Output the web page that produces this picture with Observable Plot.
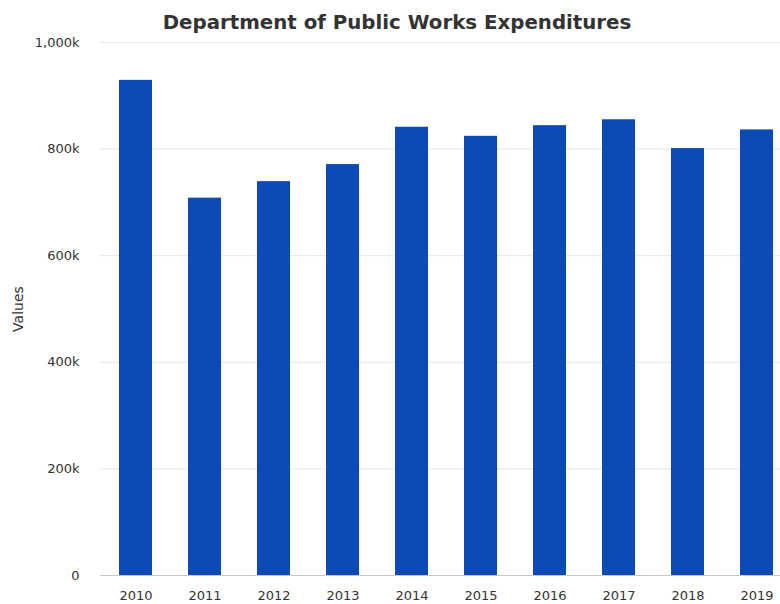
<!DOCTYPE html>
<html>
<head>
<meta charset="utf-8">
<script src="https://cdn.jsdelivr.net/npm/d3@7"></script>
<script src="https://cdn.jsdelivr.net/npm/@observablehq/plot@0.6"></script>
<style>
  body { margin: 0; background: #fff; }
  #title { height: 30px; width: 780px; box-sizing: border-box; padding-left: 14px; text-align: center;
    font-family: "DejaVu Sans", sans-serif; font-weight: bold; font-size: 19.8px; color: #333; line-height: 46px; overflow: visible; }
</style>
</head>
<body>
<div id="title">Department of Public Works Expenditures</div>
<div id="chart"></div>
<script>
const years = ["2010","2011","2012","2013","2014","2015","2016","2017","2018","2019"];
const values = [929000, 708000, 739000, 771000, 841000, 824000, 844000, 855000, 801000, 836000];
const yTicks = [0, 200000, 400000, 600000, 800000, 1000000];
const yLabel = "Values";

const data = years.map((y, i) => ({year: y, value: values[i]}));
const fmt = d => d === 0 ? "0" : d3.format(",")(d / 1000) + "k";

const chart = Plot.plot({
  width: 780,
  height: 574,
  marginTop: 12,
  marginBottom: 29,
  marginLeft: 100,
  marginRight: 0,
  style: {fontFamily: "DejaVu Sans, sans-serif", fontSize: "13px", color: "#333", background: "#fff"},
  x: {domain: years, paddingInner: 0.52, paddingOuter: 0.173, align: 0.75, label: null},
  y: {domain: [0, 1000000], label: null},
  marks: [
    Plot.ruleY(yTicks.filter(d => d > 0), {stroke: "#e6e6e6", strokeWidth: 1}),
    Plot.barY(data, {x: "year", y: "value", fill: "#0c4bb3"}),
    Plot.ruleY([0], {stroke: "#c8c8c8", strokeWidth: 1}),
    Plot.axisY({ticks: yTicks, tickFormat: fmt, tickSize: 0, tickPadding: 21, label: null, fontSize: 13}),
    Plot.axisX({tickSize: 0, tickPadding: 15, label: null, fontSize: 13}),
    Plot.text([yLabel], {text: d => d, frameAnchor: "left", textAnchor: "middle", dx: -82, rotate: -90, fontSize: 14, fill: "#333"})
  ]
});
document.getElementById("chart").appendChild(chart);
</script>
</body>
</html>
